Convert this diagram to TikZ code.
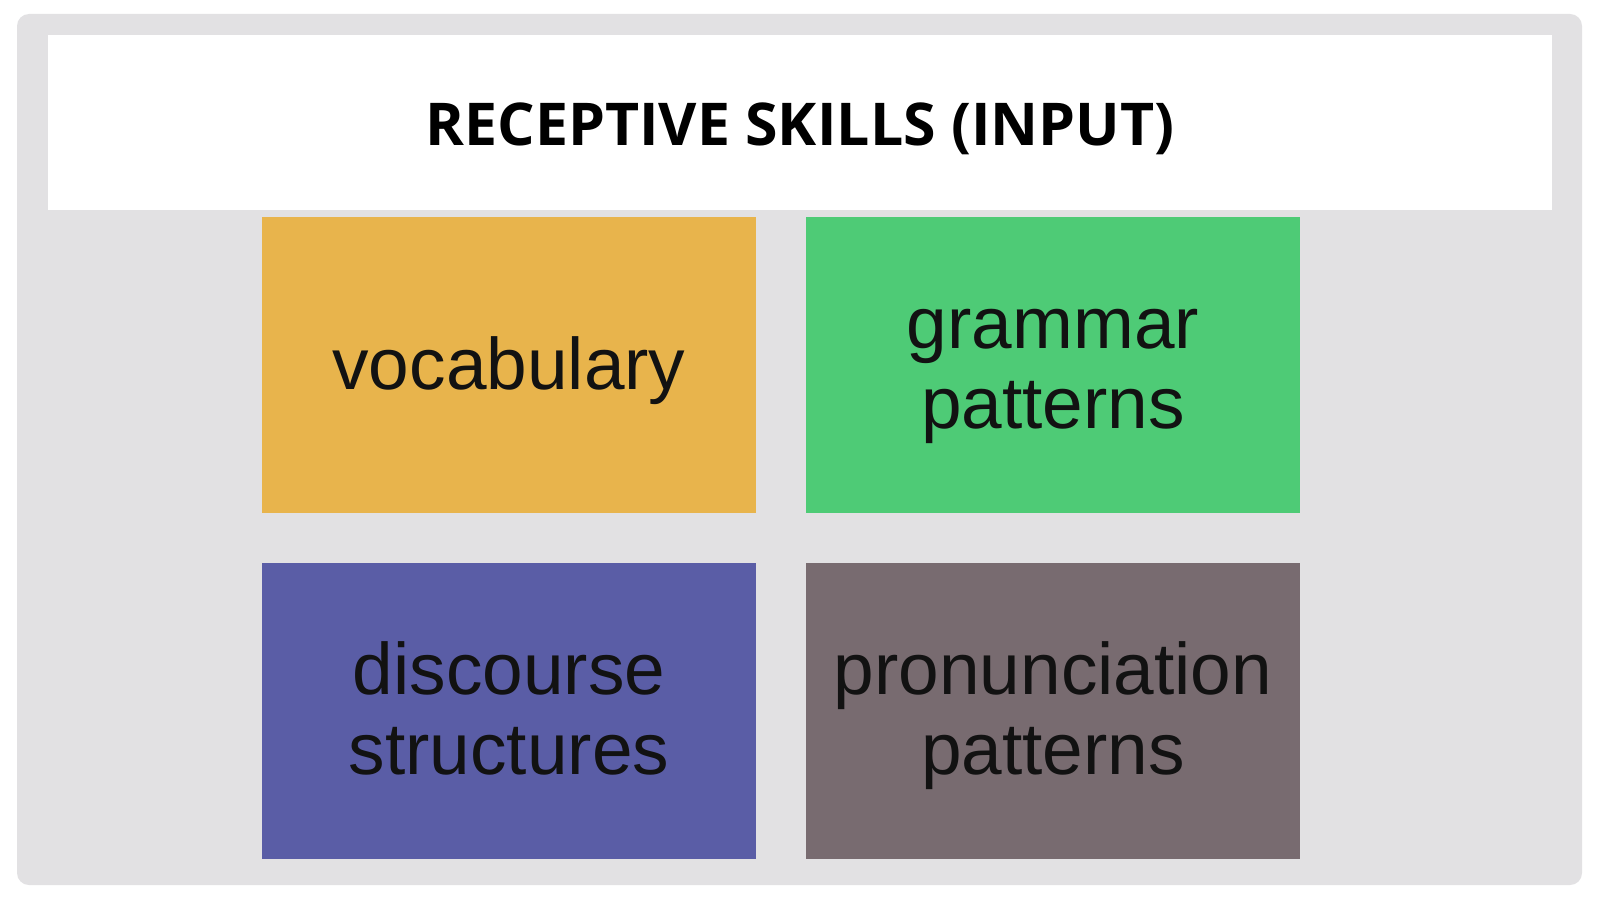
\documentclass[tikz,border=0pt]{standalone}
\usepackage{fontspec,xcolor,tikz}
\setmainfont{Liberation Sans}
\newfontfamily\titlefont{Open Sans}

\definecolor{slidegray}{HTML}{E2E1E3}
\definecolor{vocabcol}{HTML}{E8B44C}
\definecolor{grammarcol}{HTML}{4ECB76}
\definecolor{discoursecol}{HTML}{5A5DA6}
\definecolor{pronuncol}{HTML}{786B70}

\tikzset{
	skillbox/.style={draw=none, minimum width=494pt, minimum height=296pt, align=center, inner sep=0pt, text=black!93, font=\fontsize{73}{80}\selectfont, text height=48pt, text depth=0pt},
	twolines/.style={text height=126pt, text depth=0pt},
}

\begin{document}
\begin{tikzpicture}[x=1pt, y=-1pt]
			\useasboundingbox (0, 0) rectangle (1600, 899);
			\fill[white] (0, 0) rectangle (1600, 899);
			\fill[slidegray, rounded corners=12pt] (17, 14) rectangle (1582, 885);
			\fill[white] (48, 35) rectangle (1552, 210);

			\draw (800, 145) 	node[anchor=base, inner sep=0pt, font=\titlefont\bfseries\fontsize{59}{66}\selectfont] 	(title) 	{RECEPTIVE SKILLS (INPUT)};

			\draw (509, 365) 	node[skillbox, fill=vocabcol] 			(vocab) 	{vocabulary};
			\draw (1053, 365) 	node[skillbox, twolines, fill=grammarcol] 	(grammar) 	{grammar\\patterns};
			\draw (509, 711) 	node[skillbox, twolines, fill=discoursecol] 	(discourse) 	{discourse\\structures};
			\draw (1053, 711) 	node[skillbox, twolines, fill=pronuncol] 	(pronun) 	{pronunciation\\patterns};
		\end{tikzpicture}
\end{document}
